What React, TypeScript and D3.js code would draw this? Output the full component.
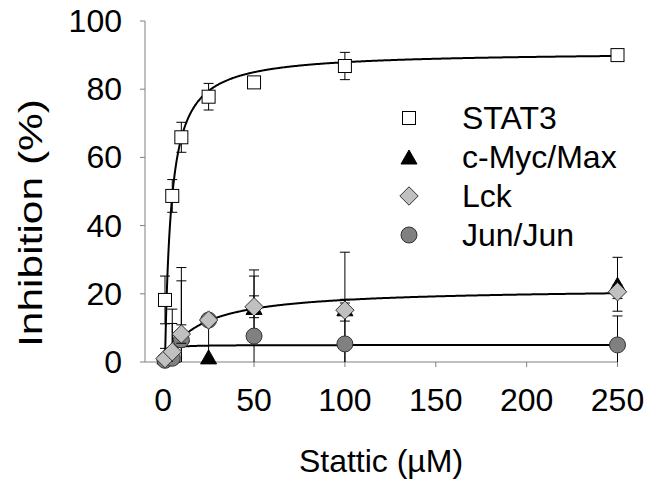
import React from "react";
import * as d3 from "d3";

// ---------- data ----------
const concentrations = [1, 5, 10, 25, 50, 100, 250];
const stat3 = [18.2, 48.7, 65.9, 77.8, 82, 86.8, 90];
const stat3Err = [7, 4.8, 4.4, 3.9, 1, 4, 1];
const cmyc = [1.5, 2, 8, 1.5, 16, 15.6, 22.8];
const cmycErr = [2.5, 13.5, 19.7, 10, 9.2, 16.6, 7.9];
const lck = [1, 3, 8.2, 12.3, 16.2, 15.2, 20.6];
const lckErr = [1, 8.3, 2.7, 1, 3.2, 3.2, 2];
const jun = [0.5, 1.1, 6.5, 12.3, 7.6, 5.3, 5.0];
const junErr = [0.5, 1, 17.3, 1, 19.4, 12, 8.5];

// fitted saturation curves: y = V*(x-x0)/(K + x - x0)
const fitStart = 1;
const stat3Fit = { V: 91, K: 3.47 };
const lckFit = { V: 21.7, K: 19 };
const flatFit = { V: 5, K: 1 };

const xTicks = [0, 50, 100, 150, 200, 250];
const yTicks = [0, 20, 40, 60, 80, 100];
const legendLabels = ["STAT3", "c-Myc/Max", "Lck", "Jun/Jun"];
const xTitle = "Stattic (µM)";
const yTitle = "Inhibition (%)";

// ---------- layout ----------
const W = 645, H = 479;
const FONT = "Arial, 'Liberation Sans', sans-serif";
const x = d3.scaleLinear().domain([-10, 250]).range([145, 617.5]);
const y = d3.scaleLinear().domain([0, 100]).range([362, 21]);

function marker(kind: string, cx: number, cy: number, key: string) {
  if (kind === "square") {
    return <rect key={key} x={cx - 6.5} y={cy - 6.5} width={13} height={13} fill="#fff" stroke="#000" strokeWidth={1} />;
  }
  if (kind === "triangle") {
    const w = 16, h = 14;
    return <path key={key} d={`M${cx},${cy - h / 2}L${cx + w / 2},${cy + h / 2}L${cx - w / 2},${cy + h / 2}Z`} fill="#000" stroke="#000" strokeWidth={1} />;
  }
  if (kind === "diamond") {
    const r = 9.2;
    return <path key={key} d={`M${cx},${cy - r}L${cx + r},${cy}L${cx},${cy + r}L${cx - r},${cy}Z`} fill="#c0c0c0" stroke="#333" strokeWidth={1} />;
  }
  return <circle key={key} cx={cx} cy={cy} r={8} fill="#808080" stroke="#333" strokeWidth={1} />;
}

const series = [
  { name: "STAT3", vals: stat3, err: stat3Err, kind: "square" },
  { name: "c-Myc/Max", vals: cmyc, err: cmycErr, kind: "triangle" },
  { name: "Jun/Jun", vals: jun, err: junErr, kind: "circle" },
  { name: "Lck", vals: lck, err: lckErr, kind: "diamond" },
];
const legendKinds = ["square", "triangle", "diamond", "circle"];

function fitPath(p: { V: number; K: number }) {
  const pts: [number, number][] = [];
  for (let i = 0; i <= 600; i++) {
    const xv = fitStart + Math.pow(i / 600, 2.5) * (250 - fitStart);
    const d = xv - fitStart;
    pts.push([xv, (p.V * d) / (p.K + d)]);
  }
  return d3.line<[number, number]>().x((d) => x(d[0])).y((d) => y(d[1])).curve(d3.curveLinear)(pts) || "";
}

export default function App() {
  const axisColor = "#808080";
  return (
    <svg width={W} height={H} style={{ position: "absolute", left: 0, top: 0, background: "#fff" }}>
      <defs>
        <clipPath id="plotClip">
          <rect x={0} y={y(100)} width={W} height={y(0) - y(100)} />
        </clipPath>
      </defs>
      <rect x={0} y={0} width={W} height={H} fill="#fff" />
      {/* axes */}
      <line x1={x(-10)} x2={x(250)} y1={y(0)} y2={y(0)} stroke={axisColor} strokeWidth={1} />
      <line x1={x(-10)} x2={x(-10)} y1={y(0)} y2={y(100)} stroke={axisColor} strokeWidth={1} />
      {yTicks.map((t) => (
        <g key={"yt" + t}>
          <line x1={x(-10) - 5} x2={x(-10)} y1={y(t)} y2={y(t)} stroke={axisColor} />
          <text x={122} y={y(t) + 11} textAnchor="end" fontFamily={FONT} fontSize={32} fill="#000">{t}</text>
        </g>
      ))}
      {xTicks.map((t) => (
        <g key={"xt" + t}>
          <line x1={x(t)} x2={x(t)} y1={y(0)} y2={y(0) + 5} stroke={axisColor} />
          <text x={x(t)} y={411} textAnchor="middle" fontFamily={FONT} fontSize={32} fill="#000">{t}</text>
        </g>
      ))}
      <text x={381} y={472} textAnchor="middle" fontFamily={FONT} fontSize={32} fill="#000">{xTitle}</text>
      <text transform={`translate(42,223) rotate(-90)`} textAnchor="middle" fontFamily={FONT} fontSize={33}
        textLength={248} lengthAdjust="spacingAndGlyphs" fill="#000">{yTitle}</text>

      {/* fitted curves */}
      <path d={fitPath(stat3Fit)} fill="none" stroke="#000" strokeWidth={2} />
      <path d={fitPath(lckFit)} fill="none" stroke="#000" strokeWidth={2} />
      <path d={fitPath(flatFit)} fill="none" stroke="#000" strokeWidth={2} />

      {/* series */}
      {series.map((s) => (
        <g key={s.name}>
          <g clipPath="url(#plotClip)">
            {concentrations.map((c, i) => {
              const cx = x(c), top = y(s.vals[i] + s.err[i]), bot = y(s.vals[i] - s.err[i]);
              return (
                <g key={i}>
                  <line x1={cx} x2={cx} y1={top} y2={bot} stroke="#000" strokeWidth={1} />
                  <line x1={cx - 5} x2={cx + 5} y1={top} y2={top} stroke="#000" strokeWidth={1} />
                  <line x1={cx - 5} x2={cx + 5} y1={bot} y2={bot} stroke="#000" strokeWidth={1} />
                </g>
              );
            })}
          </g>
          {concentrations.map((c, i) => marker(s.kind, x(c), y(s.vals[i]), s.name + i))}
        </g>
      ))}

      {/* legend */}
      {legendLabels.map((lab, i) => {
        const cy = 118 + i * 39;
        return (
          <g key={lab}>
            {marker(legendKinds[i], 409, cy, "lg" + i)}
            <text x={462} y={cy + 11} fontFamily={FONT} fontSize={32} fill="#000">{lab}</text>
          </g>
        );
      })}
    </svg>
  );
}
